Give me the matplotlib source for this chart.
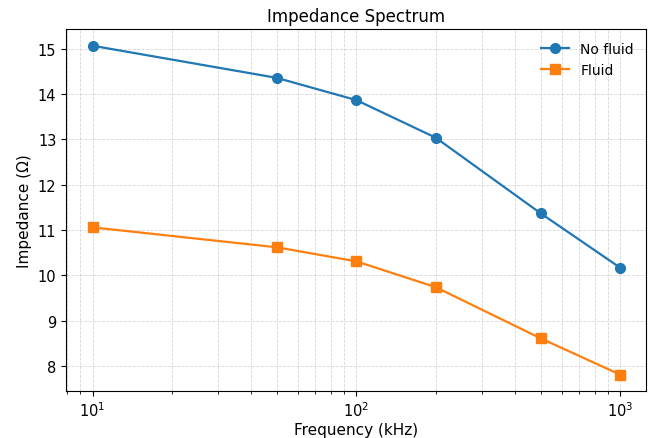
import matplotlib
matplotlib.use('Agg')
import matplotlib.pyplot as plt

freq_khz = [10, 50, 100, 200, 500, 1000]
no_fluid = [15.07, 14.36, 13.87, 13.04, 11.37, 10.17]
fluid = [11.06, 10.62, 10.31, 9.74, 8.61, 7.81]

plt.rcParams['font.size'] = 10
plt.rcParams['lines.linewidth'] = 1.6
plt.rcParams['lines.markersize'] = 7

fig, ax = plt.subplots(figsize=(6.55, 4.39), dpi=100)
ax.plot(freq_khz, no_fluid, marker='o', label='No fluid')
ax.plot(freq_khz, fluid, marker='s', label='Fluid')
ax.set_xscale('log')
ax.set_xlabel('Frequency (kHz)', fontsize=11, labelpad=2)
ax.set_ylabel('Impedance (Ω)', fontsize=11)
ax.set_title('Impedance Spectrum', fontsize=12)
ax.tick_params(labelsize=10.5)
ax.grid(True, which='both', linestyle='--', linewidth=0.6, alpha=0.5)
ax.legend(frameon=False, fontsize=10)

fig.subplots_adjust(left=0.101, right=0.987, top=0.931, bottom=0.107)
fig.savefig('out.png', dpi=100)
